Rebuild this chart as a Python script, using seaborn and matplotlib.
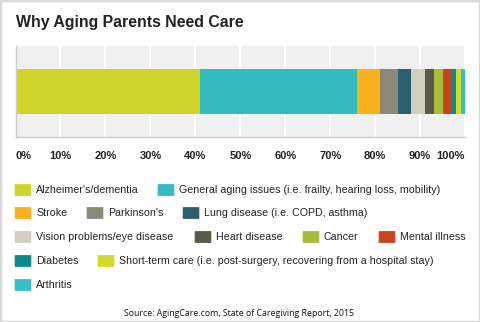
import matplotlib
matplotlib.use("Agg")
import matplotlib.pyplot as plt
from matplotlib.patches import FancyBboxPatch, Rectangle
import numpy as np
import pandas as pd
import seaborn as sns

# ---- data ----
categories = [
    "Alzheimer's/dementia",
    "General aging issues (i.e. frailty, hearing loss, mobility)",
    "Stroke",
    "Parkinson's",
    "Lung disease (i.e. COPD, asthma)",
    "Vision problems/eye disease",
    "Heart disease",
    "Cancer",
    "Mental illness",
    "Diabetes",
    "Short-term care (i.e. post-surgery, recovering from a hospital stay)",
    "Arthritis",
]
values = [41, 35, 5, 4, 3, 3, 2, 2, 2, 1, 1, 1]
colors = ["#D0D32A", "#33BDBF", "#F9B11F", "#8B8A79", "#2E5F6E", "#D1CFC0",
          "#5B5A4A", "#A8BC38", "#C8451C", "#0A8A8A", "#D3D92A", "#33BFC4"]
tick_values = [0, 10, 20, 30, 40, 50, 60, 70, 80, 90, 100]
tick_labels = ["0%", "10%", "20%", "30%", "40%", "50%", "60%", "70%", "80%", "90%", "100%"]
title = "Why Aging Parents Need Care"
source = "Source: AgingCare.com, State of Caregiving Report, 2015"

# legend layout (row y centre px, square x px) per category
legend_pos = [(190, 15), (190, 158),
              (213, 15), (213, 87), (213, 183),
              (237, 15), (237, 195), (237, 303), (237, 379),
              (261, 15), (261, 98),
              (285, 15)]

sns.set_theme(style="white")
plt.rcParams['font.family'] = ['Liberation Sans', 'DejaVu Sans']

W, H = 480, 322
fig = plt.figure(figsize=(W / 100, H / 100), dpi=100)
fig.patch.set_facecolor("white")

def fx(px):
    return px / W

def fy(py):
    return 1 - py / H

ax = fig.add_axes([fx(15.5), fy(136.7), fx(465) - fx(15.5), fy(46) - fy(136.7)])
ax.set_facecolor("#F0F0F0")

df = pd.DataFrame({"cat": categories, "val": values, "color": colors})
df["cum"] = df["val"].cumsum()

# stacked bar: draw cumulative totals from largest to smallest
for i in range(len(df) - 1, -1, -1):
    sns.barplot(x=[df["cum"].iloc[i]], y=["all"], color=df["color"].iloc[i],
                saturation=1, width=0.5, orient="h", linewidth=0, ax=ax)

ax.set_xlim(0, 100)
ax.set_ylim(0.5, -0.5)
ax.set_xticks(tick_values)
ax.set_xticklabels(tick_labels, fontsize=8, fontweight="bold", color="#222222")
labs = ax.get_xticklabels()
labs[0].set_ha("left")
labs[-1].set_ha("right")
ax.tick_params(axis="x", length=0, pad=10.5)
ax.set_yticks([])
ax.set_xlabel("")
ax.set_ylabel("")
ax.set_axisbelow(True)
ax.grid(axis="x", color="white", linewidth=1.5)
ax.grid(axis="y", visible=False)
for s in ["top", "right"]:
    ax.spines[s].set_visible(False)
for s in ["left", "bottom"]:
    ax.spines[s].set_color("#CCCCCC")
    ax.spines[s].set_linewidth(1)

# title
fig.text(fx(16), fy(23), title, fontsize=11.4, fontweight="bold",
         color="#222222", ha="left", va="center")

# legend
for (cy, sx), cat, col in zip(legend_pos, categories, colors):
    fig.patches.append(FancyBboxPatch((fx(sx + 1), fy(cy + 5)), fx(14), fy(0) - fy(10),
                                      boxstyle="round,pad=0.002", transform=fig.transFigure,
                                      facecolor=col, edgecolor=col, linewidth=0.5))
    fig.text(fx(sx + 21), fy(cy), cat, fontsize=7.7, color="#222222",
             ha="left", va="center")

# source
fig.text(fx(239), fy(314), source, fontsize=6.3, family=["Open Sans", "DejaVu Sans"],
         color="#111111", ha="center", va="center")

# outer frame
fig.patches.append(Rectangle((0, 0), 1, 1, transform=fig.transFigure, fill=False,
                             edgecolor="#D9D9D9", linewidth=2.5))

fig.savefig("out.png", dpi=100, facecolor="white")
